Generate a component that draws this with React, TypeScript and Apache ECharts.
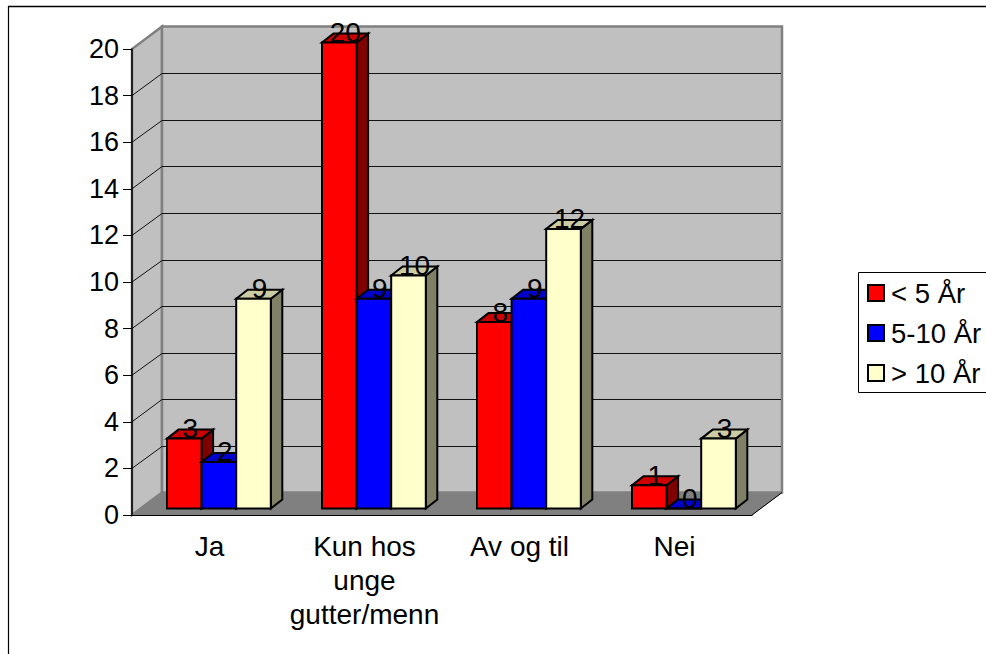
import React, { useEffect, useRef } from "react";
import * as echarts from "echarts";

const categories = ["Ja", "Kun hos\nunge\ngutter/menn", "Av og til", "Nei"];
const seriesNames = ["< 5 År", "5-10 År", "> 10 År"];
const under5 = [3, 20, 8, 1];
const from5to10 = [2, 9, 9, 0];
const over10 = [9, 10, 12, 3];
const seriesValues = [under5, from5to10, over10];
const faceColors = ["#FF0000", "#0000FF", "#FFFFCC"];
const topColors = ["#CC0000", "#0000CC", "#CCCCA3"];
const sideColors = ["#800000", "#000080", "#808066"];

// Oblique projection: depth of the plot box and of each column, in pixels.
const DEPTH_X = 30;
const DEPTH_Y = -22.5;
const BAR_OFFSET_Y = -6.5;
const BAR_DEPTH_X = 11.5;
const BAR_DEPTH_Y = -9;
const BAR_W = 34.6;
const FONT = '"Liberation Sans", Arial, sans-serif';
const FONT_SIZE = 27;

const LEFT = 132;
const RIGHT = 752;
const TOP = 49;
const BOTTOM = 515;

const poly = (points: number[][], fill: string, stroke = "#000", lineWidth = 2) => ({
  type: "polygon",
  shape: { points },
  style: { fill, stroke, lineWidth, lineJoin: "miter" },
});

function wallsRenderItem(_: any, api: any) {
  const yBase = api.coord([0, 0])[1];
  const yTop = api.coord([0, 20])[1];
  const children: any[] = [];
  // Left wall and back wall
  children.push(
    poly(
      [[LEFT, yBase], [LEFT + DEPTH_X, yBase + DEPTH_Y], [LEFT + DEPTH_X, yTop + DEPTH_Y], [LEFT, yTop]],
      "#C0C0C0",
      "#808080",
      2.5,
    ),
    poly(
      [[LEFT + DEPTH_X, yBase + DEPTH_Y], [RIGHT + DEPTH_X, yBase + DEPTH_Y], [RIGHT + DEPTH_X, yTop + DEPTH_Y], [LEFT + DEPTH_X, yTop + DEPTH_Y]],
      "#C0C0C0",
      "#808080",
      2.5,
    ),
  );
  // Value gridlines wrapping from the left wall onto the back wall
  for (let v = 2; v <= 18; v += 2) {
    const y = api.coord([0, v])[1];
    const backY = Math.round(y + DEPTH_Y) + 0.5;
    children.push({
      type: "polyline",
      shape: { points: [[LEFT, y], [LEFT + DEPTH_X, backY], [RIGHT + DEPTH_X - 1, backY]] },
      style: { fill: "none", stroke: "#111", lineWidth: 1 },
    });
  }
  // Floor and its right-hand edge
  children.push(
    poly(
      [[LEFT, yBase], [LEFT + DEPTH_X, yBase + DEPTH_Y], [RIGHT + DEPTH_X, yBase + DEPTH_Y], [RIGHT, yBase]],
      "#808080",
      "#808080",
      1,
    ),
    {
      type: "line",
      shape: { x1: RIGHT, y1: yBase, x2: RIGHT + DEPTH_X, y2: yBase + DEPTH_Y },
      style: { stroke: "#000", lineWidth: 1 },
    },
  );
  return { type: "group", children };
}

function barRenderItem(seriesIndex: number) {
  return (_: any, api: any) => {
    const cat = api.value(0);
    const val = api.value(1);
    const bandW = api.size([1, 0])[0];
    const center = api.coord([cat, 0]);
    const groupLeft = center[0] - bandW / 2 + 35;
    const x0 = groupLeft + seriesIndex * BAR_W;
    const x1 = x0 + BAR_W;
    const yBase = center[1] + BAR_OFFSET_Y;
    const yTop = api.coord([cat, val])[1] + BAR_OFFSET_Y;
    const dx = BAR_DEPTH_X;
    const dy = BAR_DEPTH_Y;
    return {
      type: "group",
      children: [
        poly([[x1, yBase], [x1 + dx, yBase + dy], [x1 + dx, yTop + dy], [x1, yTop]], sideColors[seriesIndex]),
        poly([[x0, yTop], [x0 + dx, yTop + dy], [x1 + dx, yTop + dy], [x1, yTop]], topColors[seriesIndex]),
        poly([[x0, yBase], [x1, yBase], [x1, yTop], [x0, yTop]], faceColors[seriesIndex]),
        {
          type: "text",
          style: {
            x: (x0 + x1) / 2 + 6,
            y: yTop + 4,
            text: String(val),
            align: "center",
            verticalAlign: "bottom",
            fill: "#000",
            font: `28px ${FONT}`,
          },
        },
      ],
    };
  };
}

const App: React.FC = () => {
  const ref = useRef<HTMLDivElement>(null);
  useEffect(() => {
    const chart = echarts.init(ref.current!, undefined, { renderer: "svg" });
    chart.setOption({
      animation: false,
      backgroundColor: "#fff",
      textStyle: { fontFamily: FONT },
      grid: { left: LEFT, top: TOP, width: RIGHT - LEFT, height: BOTTOM - TOP },
      xAxis: {
        type: "category",
        z: 10,
        data: categories,
        axisLine: { lineStyle: { color: "#000", width: 1 } },
        axisTick: { alignWithLabel: false, length: 9, lineStyle: { color: "#000" } },
        axisLabel: { color: "#000", fontSize: 28, fontFamily: FONT, margin: 14, lineHeight: 34, interval: 0 },
        splitLine: { show: false },
      },
      yAxis: {
        type: "value",
        z: 10,
        min: 0,
        max: 20,
        interval: 2,
        axisLine: { show: true, lineStyle: { color: "#000", width: 1.5 } },
        axisTick: { show: true, length: 9, lineStyle: { color: "#000" } },
        axisLabel: { color: "#000", fontSize: FONT_SIZE, fontFamily: FONT, margin: 13 },
        splitLine: { show: false },
      },
      graphic: [
        { type: "line", shape: { x1: 8, y1: 6.5, x2: 986, y2: 6.5 }, style: { stroke: "#000", lineWidth: 1.6 } },
        { type: "line", shape: { x1: 8.5, y1: 6, x2: 8.5, y2: 654 }, style: { stroke: "#000", lineWidth: 1.2 } },
        { type: "rect", shape: { x: 858.5, y: 272.5, width: 140, height: 120 }, style: { fill: "#fff", stroke: "#000", lineWidth: 1 } },
        ...seriesNames.flatMap((name, i) => [
          { type: "rect", shape: { x: 868, y: 285 + i * 40, width: 16, height: 16 }, style: { fill: faceColors[i], stroke: "#000", lineWidth: 2 } },
          { type: "text", style: { x: 891, y: 293 + i * 40, text: name, fill: "#000", font: `27.5px ${FONT}`, verticalAlign: "middle", align: "left" } },
        ]),
      ],
      series: [
        {
          type: "custom",
          z: 1,
          coordinateSystem: "cartesian2d",
          data: [[0, 0]],
          renderItem: wallsRenderItem,
          silent: true,
        },
        ...seriesValues.map((values, s) => ({
          type: "custom",
          name: seriesNames[s],
          z: 2 + s,
          coordinateSystem: "cartesian2d",
          data: values.map((v, c) => [c, v]),
          renderItem: barRenderItem(s),
          encode: { x: 0, y: 1 },
        })),
      ],
    });
    return () => chart.dispose();
  }, []);
  return <div ref={ref} style={{ position: "absolute", left: 0, top: 0, width: 986, height: 654 }} />;
};

export default App;
